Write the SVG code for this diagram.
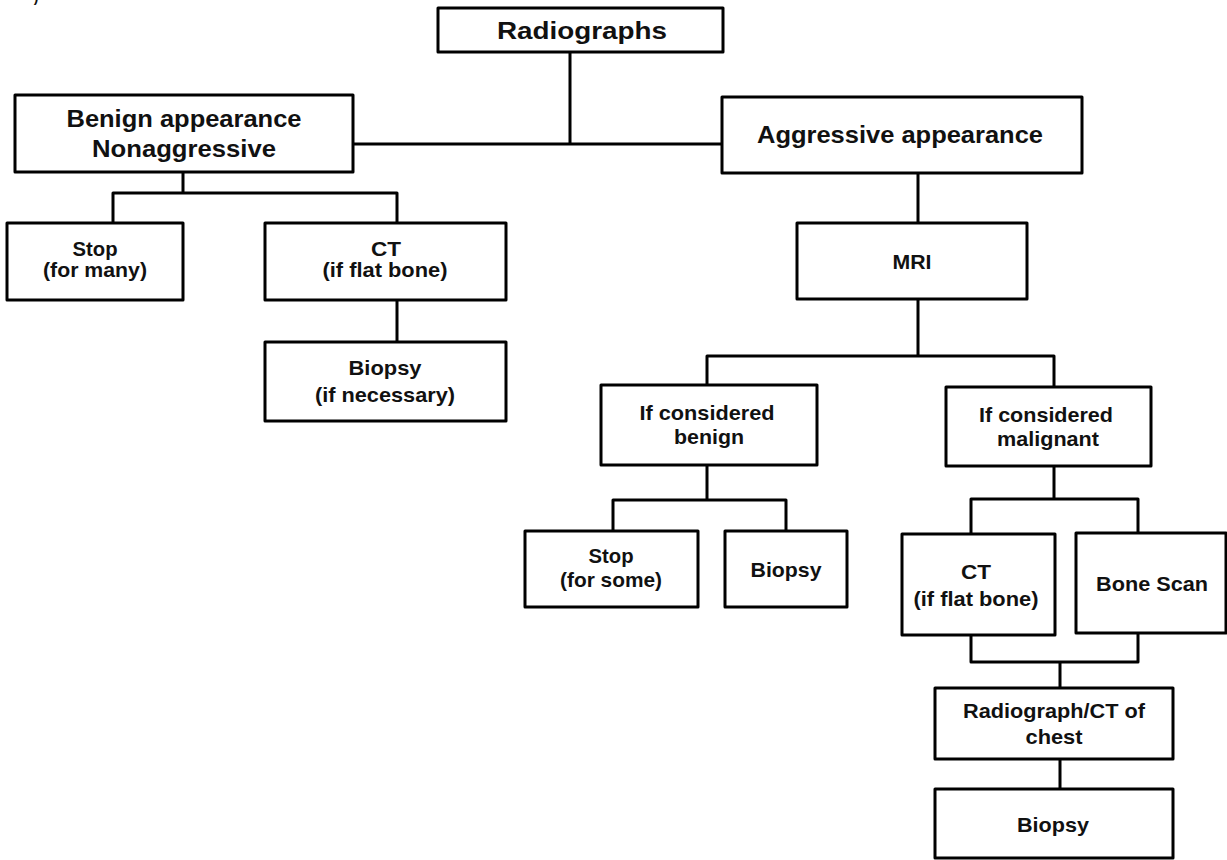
<svg xmlns="http://www.w3.org/2000/svg" width="1227" height="860" viewBox="0 0 1227 860">
<style>
.box{fill:#fff;stroke:#000;stroke-width:3;stroke-linejoin:round}
.ln{fill:none;stroke:#000;stroke-width:3;stroke-linejoin:round}
text{font-family:"Liberation Sans",Arial,sans-serif;font-weight:bold;fill:#111;text-anchor:middle}
.big{font-size:24px}
.sm{font-size:21px}
</style>
<rect width="1227" height="860" fill="#fff"/>
<text x="36" y="2" style="font-size:14px">)</text>
<g id="connectors">
<path class="ln" d="M570 52V144M353 144H722"/>
<path class="ln" d="M183 172V193M113 223V193H397V223M397 300V342"/>
<path class="ln" d="M918 173V223M918 299V356M707 385V356H1054V387"/>
<path class="ln" d="M707 465V500M613 531V500H786V531"/>
<path class="ln" d="M1054 466V499M971 534V499H1138V533"/>
<path class="ln" d="M971 635V662H1138V633M1060 662V688M1060 759V789"/>
</g>
<g id="radiographs"><rect class="box" x="438" y="8" width="285" height="44"/><text class="big" x="582" y="39" textLength="170" lengthAdjust="spacingAndGlyphs">Radiographs</text></g>
<g id="benign"><rect class="box" x="15" y="95" width="338" height="77"/><text class="big" x="184" y="127" textLength="235" lengthAdjust="spacingAndGlyphs">Benign appearance</text><text class="big" x="184" y="157" textLength="184" lengthAdjust="spacingAndGlyphs">Nonaggressive</text></g>
<g id="aggressive"><rect class="box" x="722" y="97" width="360" height="76"/><text class="big" x="900" y="143" textLength="286" lengthAdjust="spacingAndGlyphs">Aggressive appearance</text></g>
<g id="stop-many"><rect class="box" x="7" y="223" width="176" height="77"/><text class="sm" x="95" y="256" textLength="45" lengthAdjust="spacingAndGlyphs">Stop</text><text class="sm" x="95" y="277" textLength="104" lengthAdjust="spacingAndGlyphs">(for many)</text></g>
<g id="ct-left"><rect class="box" x="265" y="223" width="241" height="77"/><text class="sm" x="386" y="256" textLength="30" lengthAdjust="spacingAndGlyphs">CT</text><text class="sm" x="385" y="277" textLength="125" lengthAdjust="spacingAndGlyphs">(if flat bone)</text></g>
<g id="biopsy-necessary"><rect class="box" x="265" y="342" width="241" height="79"/><text class="sm" x="385" y="375" textLength="73" lengthAdjust="spacingAndGlyphs">Biopsy</text><text class="sm" x="385" y="402" textLength="140" lengthAdjust="spacingAndGlyphs">(if necessary)</text></g>
<g id="mri"><rect class="box" x="797" y="223" width="230" height="76"/><text class="sm" x="912" y="269" textLength="39" lengthAdjust="spacingAndGlyphs">MRI</text></g>
<g id="cons-benign"><rect class="box" x="601" y="385" width="216" height="80"/><text class="sm" x="707" y="420" textLength="135" lengthAdjust="spacingAndGlyphs">If considered</text><text class="sm" x="709" y="444" textLength="70" lengthAdjust="spacingAndGlyphs">benign</text></g>
<g id="cons-malignant"><rect class="box" x="946" y="387" width="205" height="79"/><text class="sm" x="1046" y="422" textLength="134" lengthAdjust="spacingAndGlyphs">If considered</text><text class="sm" x="1048" y="446" textLength="102" lengthAdjust="spacingAndGlyphs">malignant</text></g>
<g id="stop-some"><rect class="box" x="525" y="531" width="173" height="76"/><text class="sm" x="611" y="563" textLength="45" lengthAdjust="spacingAndGlyphs">Stop</text><text class="sm" x="611" y="587" textLength="102" lengthAdjust="spacingAndGlyphs">(for some)</text></g>
<g id="biopsy-mid"><rect class="box" x="725" y="531" width="122" height="76"/><text class="sm" x="786" y="577" textLength="71" lengthAdjust="spacingAndGlyphs">Biopsy</text></g>
<g id="ct-right"><rect class="box" x="902" y="534" width="153" height="101"/><text class="sm" x="976" y="579" textLength="30" lengthAdjust="spacingAndGlyphs">CT</text><text class="sm" x="976" y="606" textLength="125" lengthAdjust="spacingAndGlyphs">(if flat bone)</text></g>
<g id="bone-scan"><rect class="box" x="1076" y="533" width="150" height="100"/><text class="sm" x="1152" y="591" textLength="112" lengthAdjust="spacingAndGlyphs">Bone Scan</text></g>
<g id="chest"><rect class="box" x="935" y="688" width="238" height="71"/><text class="sm" x="1054" y="718" textLength="182" lengthAdjust="spacingAndGlyphs">Radiograph/CT of</text><text class="sm" x="1054" y="744" textLength="57" lengthAdjust="spacingAndGlyphs">chest</text></g>
<g id="biopsy-bottom"><rect class="box" x="935" y="789" width="238" height="69"/><text class="sm" x="1053" y="832" textLength="72" lengthAdjust="spacingAndGlyphs">Biopsy</text></g>
</svg>
